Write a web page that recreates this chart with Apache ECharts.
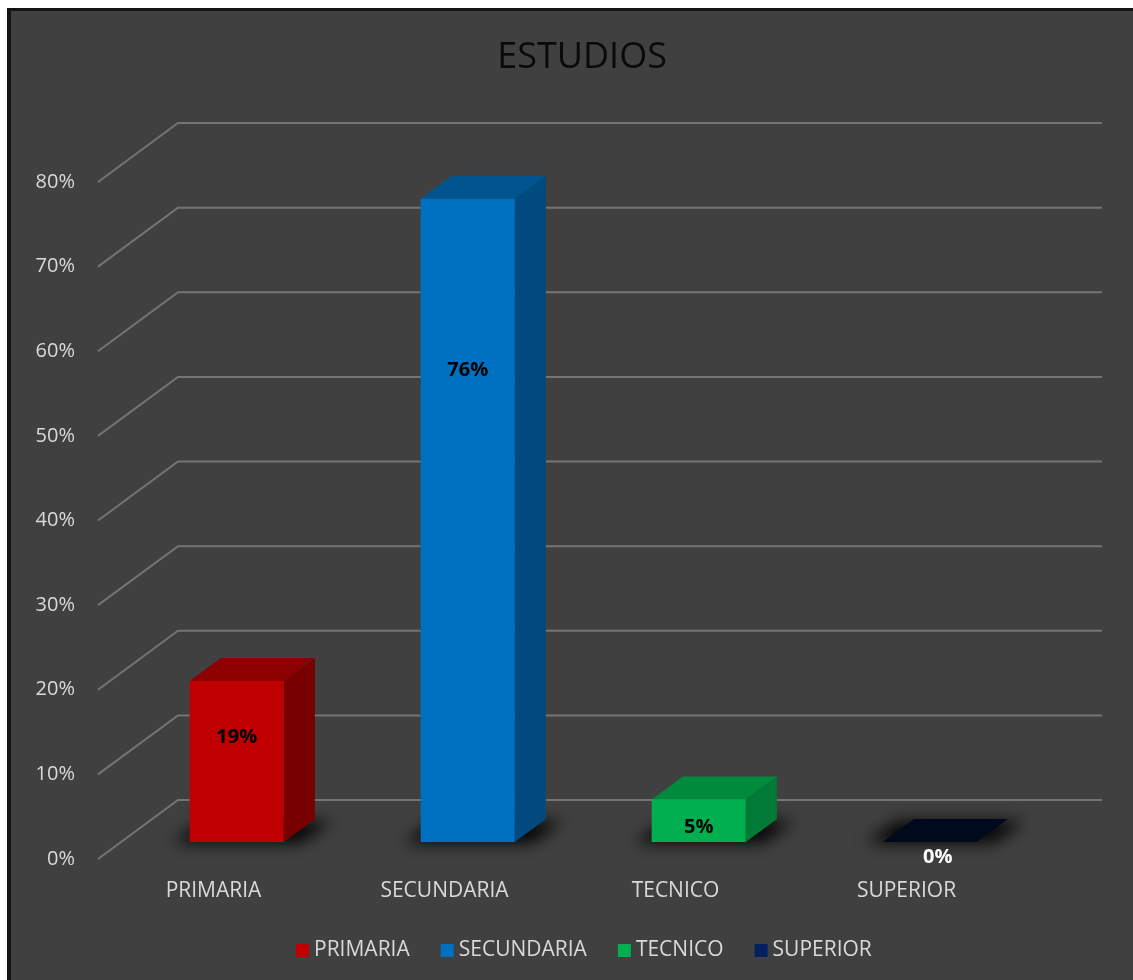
<!DOCTYPE html>
<html>
<head>
<meta charset="utf-8">
<script src="https://cdn.jsdelivr.net/npm/echarts@6/dist/echarts.min.js"></script>
<style>
html,body{margin:0;padding:0;background:#ffffff;width:1133px;height:980px;overflow:hidden;}
#frame{position:absolute;left:7px;top:8px;width:1126px;height:972px;background:#404040;border-left:4px solid #141414;border-top:3px solid #141414;box-sizing:border-box;}
#chart{position:absolute;left:0;top:0;width:1133px;height:980px;}
</style>
</head>
<body>
<div id="frame"></div>
<div id="chart"></div>
<script>
// ---- data ----
const categories = ['PRIMARIA', 'SECUNDARIA', 'TECNICO', 'SUPERIOR'];
const values = [19, 76, 5, 0];
const yTicks = [0, 10, 20, 30, 40, 50, 60, 70, 80];

// ---- style ----
const FONT = "'Open Sans', 'Noto Sans', sans-serif";
const frontColors = ['#c00000', '#0070c0', '#00b050', '#002060'];
const topColors   = ['#8e0000', '#00548f', '#008a3c', '#000a1c'];
const sideColors  = ['#780000', '#004a80', '#007a34', '#000814'];
const DEPTH = [80, -59];      // full floor depth in pixels
const F1 = 0.29, F2 = 0.68;   // bar front / back depth fractions
const BAR_FRAC = 0.407;
const SHADOW_SHIFT = 3000;

const chart = echarts.init(document.getElementById('chart'), null, {renderer: 'canvas'});

function gridRender(params, api) {
  const cs = params.coordSys;
  const v = api.value(1);
  const y = api.coord([0, v])[1];
  const x0 = cs.x;
  return {
    type: 'polyline',
    shape: {points: [[x0, y], [x0 + DEPTH[0], y + DEPTH[1]], [x0 + cs.width + DEPTH[0], y + DEPTH[1]]]},
    style: {stroke: '#747474', lineWidth: 2, fill: null},
    silent: true
  };
}

function barRender(i) {
  return function (params, api) {
    const cat = api.value(0), val = api.value(1);
    const base = api.coord([cat, 0]);
    const topP = api.coord([cat, val]);
    const bw = api.size([1, 0])[0] * BAR_FRAC;
    const o1 = [F1 * DEPTH[0], F1 * DEPTH[1]];
    const d = [(F2 - F1) * DEPTH[0], (F2 - F1) * DEPTH[1]];
    const cx = base[0] + o1[0];
    const L = cx - bw / 2, R = cx + bw / 2;
    const yB = base[1] + o1[1], yT = topP[1] + o1[1];
    const children = [];
    const e = 17, s = SHADOW_SHIFT;
    children.push({
      type: 'polygon',
      shape: {points: [[L - e - s, yB + 1], [R + e - s, yB + 1], [R + d[0] + e - s, yB + d[1] + 2], [L + d[0] - e - s, yB + d[1] + 2]]},
      style: {fill: '#000000', shadowBlur: 16, shadowColor: 'rgba(0,0,0,0.95)', shadowOffsetX: s, shadowOffsetY: 0}
    });
    const lbl = val + '%';
    if (val > 0) {
      children.push({
        type: 'polygon',
        shape: {points: [[R, yB], [R + d[0], yB + d[1]], [R + d[0], yT + d[1]], [R, yT]]},
        style: {fill: sideColors[i]}
      });
      children.push({
        type: 'polygon',
        shape: {points: [[L, yT], [R, yT], [R + d[0], yT + d[1]], [L + d[0], yT + d[1]]]},
        style: {fill: topColors[i]}
      });
      children.push({
        type: 'rect',
        shape: {x: L, y: yT, width: bw, height: yB - yT},
        style: {fill: frontColors[i]}
      });
      const ly = api.coord([cat, val * 0.76])[1];
      children.push({
        type: 'text',
        style: {text: lbl, x: cx, y: ly, align: 'center', verticalAlign: 'middle',
                fill: '#000000', font: 'bold 20px ' + FONT}
      });
    } else {
      children.push({
        type: 'polygon',
        shape: {points: [[L, yB], [R, yB], [R + d[0], yB + d[1]], [L + d[0], yB + d[1]]]},
        style: {fill: topColors[i]}
      });
      children.push({
        type: 'text',
        style: {text: lbl, x: cx + 8, y: yB + 15, align: 'center', verticalAlign: 'middle',
                fill: '#ffffff', font: 'bold 20px ' + FONT}
      });
    }
    return {type: 'group', children: children};
  };
}

const series = [{
  type: 'custom',
  name: '_grid',
  z: 1,
  silent: true,
  renderItem: gridRender,
  data: yTicks.map(v => [0, v]),
  encode: {x: 0, y: 1}
}];
categories.forEach((c, i) => {
  series.push({
    type: 'custom',
    name: c,
    z: 2,
    itemStyle: {color: frontColors[i]},
    renderItem: barRender(i),
    data: [[i, values[i]]],
    encode: {x: 0, y: 1}
  });
});

chart.setOption({
  animation: false,
  backgroundColor: 'transparent',
  title: {
    text: 'ESTUDIOS',
    left: 577,
    textAlign: 'center',
    top: 35,
    textStyle: {color: '#0a0a0a', fontSize: 36, fontWeight: 'normal', fontFamily: FONT}
  },
  legend: {
    data: categories,
    left: 296,
    top: 940,
    padding: 0,
    icon: 'rect',
    itemWidth: 13,
    itemHeight: 13,
    itemGap: 31,
    textStyle: {color: '#d9d9d9', fontSize: 21, fontFamily: FONT}
  },
  grid: {left: 98, right: 111, top: 182, bottom: 121, containLabel: false},
  xAxis: {
    type: 'category',
    data: categories,
    axisLine: {show: false},
    axisTick: {show: false},
    splitLine: {show: false},
    axisLabel: {color: '#d9d9d9', fontSize: 21, fontFamily: FONT, margin: 22}
  },
  yAxis: {
    type: 'value',
    min: 0, max: 80, interval: 10,
    axisLine: {show: false},
    axisTick: {show: false},
    splitLine: {show: false},
    axisLabel: {color: '#d9d9d9', fontSize: 20, fontFamily: FONT, margin: 23, formatter: '{value}%'}
  },
  series: series
});
</script>
</body>
</html>
